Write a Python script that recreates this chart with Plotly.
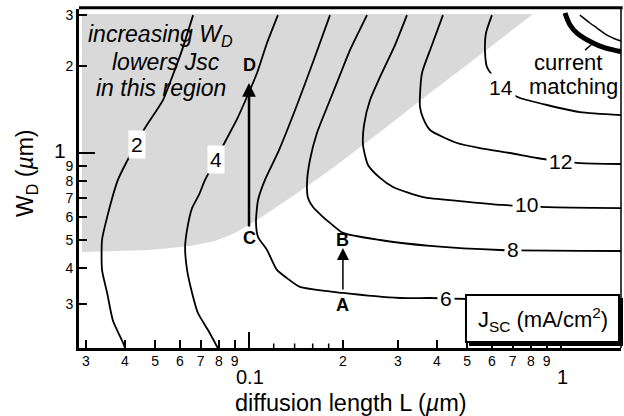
import numpy as np
import plotly.graph_objects as go

# ---- data (L = diffusion length, W = W_D, both in µm) ----
levels = [2, 4, 6, 8, 10, 12, 14]

L_2 = [0.0662, 0.0610, 0.0567, 0.0530, 0.0464, 0.0416, 0.0380, 0.0351, 0.0338, 0.0338, 0.0351, 0.0366, 0.0395, 0.0401]
W_2 = [3.00, 2.27, 1.833, 1.525, 1.220, 0.984, 0.807, 0.600, 0.500, 0.394, 0.328, 0.264, 0.220, 0.211]

L_4 = [0.1238, 0.1142, 0.1061, 0.1007, 0.0922, 0.0844, 0.0772, 0.0723, 0.0691, 0.0657, 0.0633, 0.0624, 0.0633, 0.0657, 0.0686, 0.0739, 0.0795]
W_4 = [3.00, 2.403, 1.892, 1.652, 1.332, 1.109, 0.923, 0.807, 0.716, 0.645, 0.542, 0.473, 0.394, 0.328, 0.2795, 0.244, 0.211]

L_6 = [0.1818, 0.1604, 0.1425, 0.1248, 0.1125, 0.1069, 0.1053, 0.1069, 0.1142, 0.1229, 0.1323, 0.1457, 0.2001, 0.3048, 0.3803, 0.5109, 1.557]
W_6 = [3.00, 2.065, 1.466, 1.024, 0.807, 0.688, 0.577, 0.512, 0.462, 0.394, 0.369, 0.344, 0.328, 0.315, 0.315, 0.3125, 0.3075]

L_8 = [0.2389, 0.2107, 0.1957, 0.1818, 0.1651, 0.1568, 0.1534, 0.1546, 0.1604, 0.1714, 0.1818, 0.2001, 0.2630, 0.3803, 0.6373, 1.557]
W_8 = [3.00, 2.27, 1.862, 1.525, 1.173, 0.946, 0.787, 0.699, 0.650, 0.605, 0.573, 0.529, 0.500, 0.477, 0.4617, 0.458]

L_10 = [0.3208, 0.2937, 0.2630, 0.2443, 0.2337, 0.2320, 0.2407, 0.2630, 0.2894, 0.3612, 0.4746, 0.6515, 0.9018, 1.557]
W_10 = [3.00, 2.364, 1.833, 1.525, 1.250, 1.066, 0.909, 0.820, 0.763, 0.704, 0.682, 0.661, 0.650, 0.645]

L_12 = [0.4184, 0.3859, 0.3585, 0.3532, 0.3532, 0.3612, 0.3803, 0.4642, 0.5499, 0.6864, 0.8379, 0.9927, 1.150, 1.557]
W_12 = [3.00, 2.364, 1.892, 1.587, 1.443, 1.322, 1.201, 1.083, 1.040, 1.0, 0.961, 0.938, 0.923, 0.916]

L_14 = [0.6008, 0.5748, 0.5705, 0.5790, 0.6008, 0.6373, 0.6864, 0.7389, 0.9018, 1.150, 1.557]
W_14 = [3.00, 2.601, 2.27, 1.984, 1.862, 1.719, 1.613, 1.550, 1.466, 1.386, 1.353]

# current-matching curves (top right)
L_cm_thick = [1.030, 1.069, 1.125, 1.267, 1.384, 1.523, 1.557]
W_cm_thick = [3.05, 2.773, 2.601, 2.403, 2.309, 2.254, 2.245]
L_cm_thin = [1.150, 1.238, 1.305, 1.404, 1.523, 1.557]
W_cm_thin = [3.0, 2.818, 2.707, 2.560, 2.460, 2.44]
L_cm_ptr = [1.194, 1.258]
W_cm_ptr = [2.27, 2.383]

# shaded region where increasing W_D lowers Jsc
L_gray = [0.02915, 0.0482, 0.0647, 0.0778, 0.0902, 0.1085, 0.1353, 0.1818, 0.2630, 0.3803, 0.5499, 0.8133, 0.02915]
W_gray = [0.4544, 0.4617, 0.477, 0.496, 0.529, 0.596, 0.699, 0.873, 1.182, 1.613, 2.184, 3.027, 3.027]

# points A-D (L, W)
pt_names = ["A", "B", "C", "D"]
pt_L = [0.2, 0.2, 0.1, 0.1]
pt_W = [0.298, 0.500, 0.508, 2.016]

# tick labels
x_tick_vals = [0.03, 0.04, 0.05, 0.06, 0.07, 0.08, 0.09, 0.2, 0.3, 0.4, 0.5, 0.6, 0.7, 0.8, 0.9]
x_tick_text = ["3", "4", "5", "6", "7", "8", "9", "2", "3", "4", "5", "6", "7", "8", "9"]
x_small_ticks = [0.12, 0.14, 0.16, 0.18]
x_decades = [0.1, 1]
x_decade_text = ["0.1", "1"]
y_tick_vals = [0.3, 0.4, 0.5, 0.6, 0.7, 0.8, 0.9, 2, 3]
y_tick_text = ["3", "4", "5", "6", "7", "8", "9", "2", "3"]
y_decades = [1]
y_decade_text = ["1"]

FONT = "Liberation Sans, Arial, Helvetica, sans-serif"
XR = [-1.5449, 0.1923]
YR = [-0.6747, 0.4983]

fig = go.Figure()

fig.add_trace(go.Scatter(x=L_gray, y=W_gray, mode="lines", fill="toself",
                         fillcolor="#d9d9d9", line=dict(width=0),
                         hoverinfo="skip", showlegend=False))

contours = {2: (L_2, W_2), 4: (L_4, W_4), 6: (L_6, W_6), 8: (L_8, W_8),
            10: (L_10, W_10), 12: (L_12, W_12), 14: (L_14, W_14)}
for lev in levels:
    Ls, Ws = contours[lev]
    fig.add_trace(go.Scatter(x=Ls, y=Ws, mode="lines", name=f"{lev}",
                             line=dict(color="black", width=1.8, shape="spline", smoothing=0.6),
                             showlegend=False))

fig.add_trace(go.Scatter(x=L_cm_thick, y=W_cm_thick, mode="lines",
                         line=dict(color="black", width=5, shape="spline"), showlegend=False))
fig.add_trace(go.Scatter(x=L_cm_thin, y=W_cm_thin, mode="lines",
                         line=dict(color="black", width=1.5, shape="spline"), showlegend=False))
fig.add_trace(go.Scatter(x=L_cm_ptr, y=W_cm_ptr, mode="lines",
                         line=dict(color="black", width=1.5), showlegend=False))

# tiny ticks between 0.1 and 0.2
ybot = 10 ** YR[0]
ytop_small = 10 ** (YR[0] + 4.5 / 289)
tx, ty = [], []
for v in x_small_ticks:
    tx += [v, v, None]
    ty += [ybot, ytop_small, None]
fig.add_trace(go.Scatter(x=tx, y=ty, mode="lines", line=dict(color="black", width=1.5),
                         showlegend=False, hoverinfo="skip"))

C = dict(xanchor="center", yanchor="middle", showarrow=False)
ann = []
# decade labels
for v, t in zip(x_decades, x_decade_text):
    ann.append(dict(x=np.log10(v), y=-0.0796, xref="x", yref="paper", text=t, yshift=-2, xshift=1,
                    font=dict(size=20, family=FONT, color="black"), **C))
for v, t in zip(y_decades, y_decade_text):
    ann.append(dict(x=-0.035, y=np.log10(v), xref="paper", yref="y", text=t,
                    font=dict(size=21, family=FONT, color="black"), yshift=3, **C))

# axis titles
ann.append(dict(x=0.502, y=-0.161, xref="paper", yref="paper", text="diffusion length L (<i>µ</i>m)",
                font=dict(size=23.5, family=FONT, color="black"), **C))
ann.append(dict(x=-0.098, y=0.516, xref="paper", yref="paper", text="W<sub>D</sub> (<i>µ</i>m)",
                textangle=-90, font=dict(size=23, family=FONT, color="black"), **C))

# contour labels
lab_pos = {2: (0.0438, 1.074), 4: (0.0784, 0.953), 6: (0.428, 0.315), 8: (0.702, 0.462),
           10: (0.778, 0.661), 12: (0.993, 0.931), 14: (0.642, 1.692)}
for lev in levels:
    lx, ly = lab_pos[lev]
    ann.append(dict(x=np.log10(lx), y=np.log10(ly), xref="x", yref="y", text=str(lev),
                    font=dict(size=21, family=FONT, color="black"), bgcolor="white", borderpad=2, **C))

# region text
for txt, px, py in [("<i>increasing W<sub>D</sub></i>", 0.151, 0.923),
                    ("<i>lowers Jsc</i>", 0.160, 0.844),
                    ("<i>in this region</i>", 0.151, 0.767)]:
    ann.append(dict(x=px, y=py, xref="paper", yref="paper", text=txt,
                    font=dict(size=23, family=FONT, color="black"), **C))

ann.append(dict(x=0.902, y=0.841, xref="paper", yref="paper", text="current",
                font=dict(size=22, family=FONT, color="black"), **C))
ann.append(dict(x=0.912, y=0.770, xref="paper", yref="paper", text="matching",
                font=dict(size=22, family=FONT, color="black"), **C))

# letters
for n, lx, ly in zip(pt_names, pt_L, pt_W):
    ann.append(dict(x=np.log10(lx), y=np.log10(ly), xref="x", yref="y", text=f"<b>{n}</b>",
                    font=dict(size=18, family=FONT, color="black"), **C))

# arrows A->B and C->D
ann.append(dict(x=np.log10(0.2), y=np.log10(0.469), ax=np.log10(0.2), ay=np.log10(0.333),
                xref="x", yref="y", axref="x", ayref="y", text="", showarrow=True,
                arrowhead=2, arrowsize=1.6, arrowwidth=1.5, arrowcolor="black"))
ann.append(dict(x=np.log10(0.1), y=np.log10(1.747), ax=np.log10(0.1), ay=np.log10(0.550),
                xref="x", yref="y", axref="x", ayref="y", text="", showarrow=True,
                arrowhead=2, arrowsize=1.1, arrowwidth=2.5, arrowcolor="black"))

# legend-like box
ann.append(dict(x=0.856, y=0.0826, xref="paper", yref="paper",
                text="J<sub>SC</sub> (mA/cm<sup>2</sup>)",
                font=dict(size=22, family=FONT, color="black"), **C))

shapes = [
    dict(type="rect", xref="paper", yref="paper", x0=0.7196, x1=1.0037, y0=0.0059, y1=0.1475,
         fillcolor="black", line=dict(width=0), layer="above"),
    dict(type="rect", xref="paper", yref="paper", x0=0.714, x1=0.9963, y0=0.0177, y1=0.1563,
         fillcolor="white", line=dict(color="black", width=2), layer="above"),
    dict(type="line", xref="paper", yref="paper", x0=0, x1=1.003, y0=1.004, y1=1.004,
         line=dict(color="black", width=3)),
    dict(type="line", xref="paper", yref="paper", x0=1.0, x1=1.0, y0=0, y1=1.0,
         line=dict(color="black", width=1.5)),
]

fig.update_layout(
    width=624, height=416,
    margin=dict(l=79, r=3, t=9, b=68),
    paper_bgcolor="white", plot_bgcolor="white",
    font=dict(family=FONT, color="black"),
    showlegend=False,
    annotations=ann, shapes=shapes,
    xaxis=dict(type="log", range=XR, showgrid=False, zeroline=False,
               showline=True, linewidth=3, linecolor="black",
               ticks="inside", ticklen=8, tickwidth=1.5, tickcolor="black",
               tickmode="array", tickvals=x_tick_vals, ticktext=x_tick_text,
               ticklabelstandoff=-2,
               tickfont=dict(size=14, family=FONT, color="black"),
               minor=dict(ticks="inside", ticklen=16, tickwidth=1.5, tickcolor="black",
                          tickmode="array", tickvals=x_decades, showgrid=False)),
    yaxis=dict(type="log", range=YR, showgrid=False, zeroline=False,
               showline=True, linewidth=3, linecolor="black",
               ticks="inside", ticklen=8, tickwidth=1.5, tickcolor="black",
               tickmode="array", tickvals=y_tick_vals, ticktext=y_tick_text,
               tickfont=dict(size=14, family=FONT, color="black"),
               minor=dict(ticks="inside", ticklen=16, tickwidth=1.5, tickcolor="black",
                          tickmode="array", tickvals=y_decades, showgrid=False)),
)

fig.write_html("out.html")
